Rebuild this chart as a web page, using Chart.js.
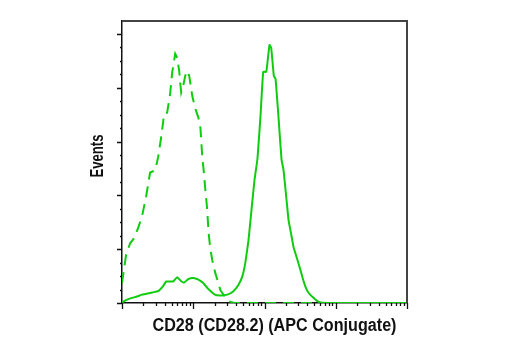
<!DOCTYPE html>
<html lang="en">
<head>
    <meta charset="UTF-8">
    <title>CD28 (CD28.2) (APC Conjugate)</title>
    <script src="https://cdn.jsdelivr.net/npm/chart.js"></script>
    <style>
        html, body { margin: 0; padding: 0; background: #fff; }
        #wrap { width: 520px; height: 350px; }
    </style>
</head>
<body>
    <div id="wrap"><canvas id="histChart" width="520" height="350"></canvas></div>

    <script>
        // stained sample (solid line)
        const stainedX = [1, 1.14, 1.34, 1.63, 1.91, 2.65, 3.21, 3.78, 4.17, 5.23, 5.95, 6.78, 7.46, 8.51, 10.0,
            11.8, 13.8, 16.3, 20.4, 24.8, 30.1, 36.6, 43.0, 49.0, 54.0, 59.6, 65.6, 72.3, 79.7, 87.9,
            95.9, 105.7, 110, 117.5, 124.2, 135.2, 142.9, 157.4, 173.4, 185.2, 204.2, 217.8, 239.9, 256.0, 282.5,
            311.3, 343, 377.6, 416.9, 474.3, 539.5, 615.2, 851, 1626, 10000];
        const stainedY = [2, 11, 18, 24, 31, 39, 44, 63, 80, 80, 96, 81, 76, 89, 93,
            87, 74, 52, 30, 28, 31, 44, 67, 100, 152, 233, 344, 456, 537, 696,
            859, 859, 893, 959, 948, 844, 833, 689, 533, 493, 381, 307, 248, 207, 170,
            133, 93, 59, 37, 22, 9, 2, 0, 0, 0];

        // isotype control (dashed line)
        const controlX = [1, 1.14, 1.30, 1.48, 1.68, 1.91, 2.18, 2.48, 2.92, 3.21, 3.54, 3.91, 4.30, 4.74, 5.06,
            5.58, 5.95, 6.35, 6.56, 6.78, 7.23, 7.72, 8.23, 8.78, 9.68, 10.7, 11.8, 12.6, 13.4, 14.0,
            14.8, 15.6, 16.4, 17.3, 18.5, 20.4, 22.5, 24.0, 27.3, 31.1, 37.8, 10000];
        const controlY = [74, 178, 222, 241, 278, 322, 396, 485, 493, 541, 615, 704, 707, 778, 856,
            926, 911, 863, 819, 782, 807, 844, 863, 844, 770, 722, 689, 652, 541, 493,
            419, 356, 263, 204, 159, 111, 74, 48, 26, 7, 0, 0];

        const xMajorTicks = [1, 10, 100, 1000, 10000];
        const yMajorTicks = [0, 200, 400, 600, 800, 1000];
        const yMinorStep = 50;
        const yMax = 1048;

        const xTitle = 'CD28 (CD28.2) (APC Conjugate)';
        const yTitle = 'Events';

        const green = '#10cc10';
        // condensed look: regular bold face squeezed through fillText's maxWidth
        const titleFont = 'bold 18px "Liberation Sans", Arial, sans-serif';

        const toPoints = (xs, ys) => xs.map((x, i) => ({ x: x, y: ys[i] }));

        // minor ticks: 2..9 inside every decade, every 50 events on y
        const xMinorTicks = [];
        for (let d = 0; d < xMajorTicks.length - 1; d++) {
            for (let k = 2; k <= 9; k++) xMinorTicks.push(k * xMajorTicks[d]);
        }
        const yMinorTicks = [];
        for (let v = yMinorStep; v < yMax; v += yMinorStep) {
            if (!yMajorTicks.includes(v)) yMinorTicks.push(v);
        }

        function squeezedText(ctx, text, x, y, width) {
            const w = ctx.measureText(text).width;
            ctx.fillText(text, x, y, Math.min(w, width));
        }

        // frame edges, outward tick marks and axis titles
        const axisDecor = {
            id: 'axisDecor',
            afterDraw(chart) {
                const { ctx, chartArea: a, scales: { x, y } } = chart;
                ctx.save();

                ctx.strokeStyle = '#444';
                ctx.lineWidth = 2;
                ctx.beginPath();
                ctx.moveTo(a.left, a.top);
                ctx.lineTo(a.right, a.top);
                ctx.lineTo(a.right, a.bottom);
                ctx.stroke();

                ctx.strokeStyle = '#111';
                ctx.lineWidth = 1.3;
                ctx.beginPath();
                yMajorTicks.forEach(v => {
                    const py = Math.round(y.getPixelForValue(v)) + 0.5;
                    ctx.moveTo(a.left - 5, py); ctx.lineTo(a.left, py);
                });
                yMinorTicks.forEach(v => {
                    const py = Math.round(y.getPixelForValue(v)) + 0.5;
                    ctx.moveTo(a.left - 2, py); ctx.lineTo(a.left, py);
                });
                xMajorTicks.forEach(v => {
                    const px = Math.round(x.getPixelForValue(v)) + 0.5;
                    ctx.moveTo(px, a.bottom); ctx.lineTo(px, a.bottom + 6);
                });
                xMinorTicks.forEach(v => {
                    const px = Math.round(x.getPixelForValue(v)) + 0.5;
                    ctx.moveTo(px, a.bottom); ctx.lineTo(px, a.bottom + 3);
                });
                ctx.stroke();

                ctx.fillStyle = '#111';
                ctx.font = titleFont;
                ctx.textAlign = 'center';
                ctx.textBaseline = 'middle';
                squeezedText(ctx, xTitle, (a.left + a.right) / 2 + 10, a.bottom + 23, 244);

                ctx.translate(a.left - 24, (a.top + a.bottom) / 2 - 6);
                ctx.rotate(-Math.PI / 2);
                squeezedText(ctx, yTitle, 0, 0, 43);

                ctx.restore();
            }
        };

        new Chart(document.getElementById('histChart'), {
            type: 'line',
            data: {
                datasets: [
                    {
                        label: 'CD28',
                        data: toPoints(stainedX, stainedY),
                        borderColor: green,
                        borderWidth: 2,
                        pointRadius: 0,
                        tension: 0.1,
                        fill: false
                    },
                    {
                        label: 'Control',
                        data: toPoints(controlX, controlY),
                        borderColor: green,
                        borderWidth: 2,
                        borderDash: [11, 7],
                        pointRadius: 0,
                        tension: 0,
                        fill: false
                    }
                ]
            },
            options: {
                responsive: false,
                animation: false,
                devicePixelRatio: 1,
                layout: { padding: { left: 122, right: 113, top: 21, bottom: 47 } },
                plugins: { legend: { display: false }, tooltip: { enabled: false } },
                scales: {
                    x: {
                        type: 'logarithmic',
                        min: 1,
                        max: 10000,
                        ticks: { display: false },
                        grid: { display: false, drawTicks: false },
                        border: { display: true, color: '#111', width: 1.5 }
                    },
                    y: {
                        type: 'linear',
                        min: 0,
                        max: yMax,
                        ticks: { display: false },
                        grid: { display: false, drawTicks: false },
                        border: { display: true, color: '#111', width: 1.5 }
                    }
                }
            },
            plugins: [axisDecor]
        });
    </script>
</body>
</html>
